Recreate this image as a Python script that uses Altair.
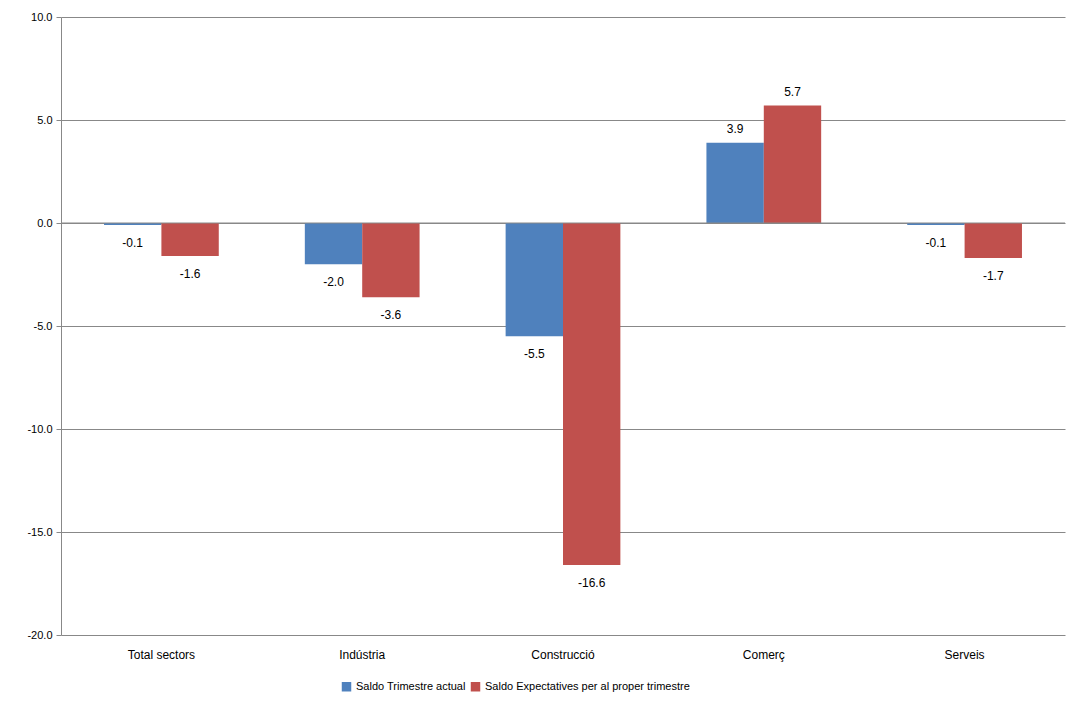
import altair as alt
import pandas as pd

sectors = ["Total sectors", "Indústria", "Construcció", "Comerç", "Serveis"]
actual = [-0.1, -2.0, -5.5, 3.9, -0.1]
expect = [-1.6, -3.6, -16.6, 5.7, -1.7]
series = ["Saldo Trimestre actual", "Saldo Expectatives per al proper  trimestre"]

rows = []
for s, a, e in zip(sectors, actual, expect):
    rows.append({"sector": s, "serie": series[0], "v": a})
    rows.append({"sector": s, "serie": series[1], "v": e})
df = pd.DataFrame(rows)

font = "Liberation Sans"
x = alt.X("sector:N", sort=sectors, title=None,
          scale=alt.Scale(paddingInner=0.0, paddingOuter=0.0),
          axis=alt.Axis(orient="bottom", labelAngle=0, domain=False, ticks=False,
                        labelPadding=14, labelFontSize=12, labelColor="#000", labelFont=font))
y = alt.Y("v:Q", title=None, scale=alt.Scale(domain=[-20, 10], nice=False),
          axis=alt.Axis(values=[-20, -15, -10, -5, 0, 5, 10], format=".1f", gridColor="#888",
                        domainColor="#888", tickColor="#888", labelFontSize=11,
                        labelColor="#000", labelFont=font, labelPadding=4,
                        labelExpr="replace(datum.label, '\u2212', '-')"))
color = alt.Color("serie:N", sort=series, title=None,
                  scale=alt.Scale(domain=series, range=["#4F81BD", "#C0504D"]),
                  legend=alt.Legend(orient="none", legendX=280, legendY=664, direction="horizontal",
                                    symbolType="square", symbolSize=90, symbolStrokeWidth=0,
                                    labelFontSize=11, labelFont=font, columnPadding=4, labelLimit=400))
xoff = alt.XOffset("serie:N", sort=series,
                   scale=alt.Scale(paddingInner=0.0, paddingOuter=0.75))

base = alt.Chart(df).encode(x=x, xOffset=xoff).transform_calculate(
    lab="replace(format(datum.v, '.1f'), '\u2212', '-')")
bars = base.mark_bar().encode(y=y, color=color)
neg = base.transform_filter("datum.v < 0").mark_text(dy=18, fontSize=12, font=font, color="#000").encode(
    y="v:Q", text="lab:N")
pos = base.transform_filter("datum.v >= 0").mark_text(dy=-14, fontSize=12, font=font, color="#000").encode(
    y="v:Q", text="lab:N")
zero = alt.Chart(pd.DataFrame({"z": [0]})).mark_rule(color="#888").encode(y="z:Q")

chart = (alt.layer(bars, zero, neg, pos)
         .properties(width=1004, height=618, padding={"left": 18, "top": 3, "right": 10, "bottom": 5})
         .configure_view(stroke=None))
chart.save("out.html", embed_options={"renderer": "svg", "actions": False})
